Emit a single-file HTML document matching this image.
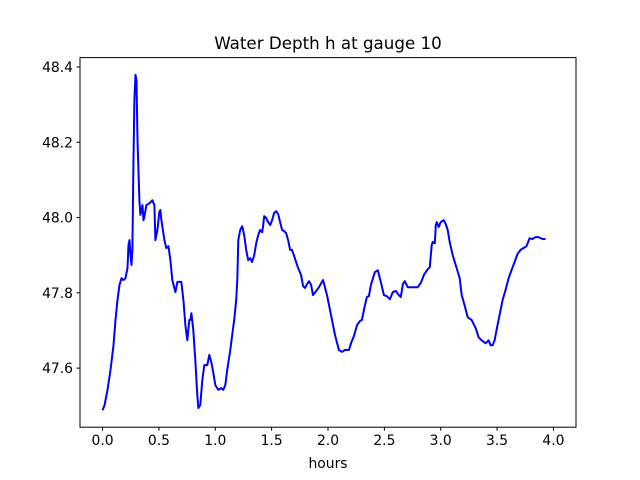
<!DOCTYPE html>
<html><head><meta charset="utf-8"><style>
body{margin:0;background:#fff;}
svg{display:block;font-family:"DejaVu Sans","Liberation Sans",sans-serif;}
</style></head><body>
<svg id="chart" width="640" height="480" viewBox="0 0 640 480" xmlns="http://www.w3.org/2000/svg">
<rect width="640" height="480" fill="#fff"/>
<text x="328" y="49" font-size="16.7" text-anchor="middle">Water Depth h at gauge 10</text>
<text x="328" y="468" font-size="13.9" text-anchor="middle">hours</text>
<g id="ticks"></g>
<path id="line" fill="none" stroke="#0000ff" stroke-width="2" stroke-linejoin="round"/>
<rect x="80" y="57.6" width="496" height="369.6" fill="none" stroke="#000" stroke-width="1"/>
</svg>
<script>
const hours=[0,0.018,0.044,0.071,0.097,0.115,0.133,0.150,0.168,0.186,0.204,0.221,0.230,0.239,0.248,0.257,0.265,0.274,0.283,0.292,0.301,0.310,0.327,0.336,0.345,0.354,0.363,0.372,0.389,0.416,0.442,0.460,0.469,0.487,0.504,0.513,0.522,0.549,0.566,0.584,0.602,0.619,0.646,0.664,0.699,0.717,0.735,0.752,0.770,0.779,0.788,0.805,0.823,0.841,0.850,0.867,0.885,0.903,0.929,0.947,0.965,0.982,1.000,1.027,1.053,1.071,1.089,1.106,1.133,1.150,1.168,1.186,1.195,1.204,1.221,1.239,1.257,1.274,1.292,1.310,1.327,1.345,1.363,1.381,1.398,1.416,1.425,1.434,1.451,1.469,1.487,1.504,1.522,1.540,1.558,1.575,1.593,1.611,1.628,1.646,1.664,1.681,1.699,1.717,1.735,1.761,1.779,1.796,1.814,1.832,1.850,1.867,1.920,1.956,1.991,2.027,2.062,2.097,2.124,2.150,2.186,2.204,2.230,2.257,2.283,2.301,2.327,2.345,2.363,2.381,2.416,2.442,2.469,2.496,2.522,2.549,2.575,2.602,2.628,2.646,2.664,2.681,2.708,2.735,2.770,2.796,2.823,2.850,2.885,2.903,2.920,2.929,2.947,2.956,2.965,2.982,3.000,3.027,3.044,3.062,3.080,3.106,3.133,3.168,3.186,3.212,3.239,3.274,3.310,3.336,3.363,3.398,3.425,3.442,3.460,3.478,3.504,3.522,3.549,3.575,3.602,3.628,3.655,3.681,3.708,3.735,3.761,3.788,3.814,3.823,3.841,3.867,3.903,3.929,3.956,4.0];
const depth=[47.488,47.502,47.542,47.595,47.661,47.728,47.781,47.821,47.839,47.834,47.839,47.866,47.927,47.940,47.900,47.874,47.914,48.140,48.312,48.379,48.365,48.206,48.046,48.007,48.020,48.033,47.993,48.004,48.033,48.038,48.046,48.033,47.940,47.967,48.015,48.020,47.993,47.940,47.919,47.924,47.887,47.834,47.802,47.829,47.829,47.781,47.714,47.674,47.728,47.728,47.746,47.701,47.621,47.528,47.494,47.502,47.568,47.608,47.608,47.635,47.616,47.589,47.555,47.542,47.547,47.542,47.555,47.595,47.648,47.688,47.728,47.781,47.834,47.940,47.967,47.977,47.953,47.914,47.887,47.892,47.882,47.900,47.932,47.953,47.967,47.961,47.980,48.004,47.999,47.988,47.980,47.993,48.012,48.017,48.009,47.988,47.967,47.964,47.959,47.940,47.914,47.914,47.898,47.882,47.866,47.847,47.818,47.813,47.823,47.831,47.821,47.794,47.815,47.834,47.794,47.741,47.688,47.648,47.643,47.648,47.648,47.666,47.685,47.714,47.725,47.728,47.767,47.789,47.791,47.821,47.855,47.860,47.828,47.794,47.791,47.783,47.802,47.805,47.794,47.789,47.823,47.831,47.815,47.815,47.815,47.815,47.826,47.847,47.863,47.868,47.927,47.935,47.932,47.980,47.988,47.975,47.988,47.993,47.983,47.967,47.935,47.900,47.874,47.839,47.794,47.767,47.735,47.728,47.706,47.682,47.674,47.666,47.674,47.661,47.661,47.674,47.714,47.741,47.781,47.807,47.839,47.860,47.882,47.903,47.914,47.919,47.924,47.945,47.943,47.945,47.948,47.948,47.943,47.943];
const xTicks=[0,0.5,1,1.5,2,2.5,3,3.5,4];
const xTickLabels=["0.0","0.5","1.0","1.5","2.0","2.5","3.0","3.5","4.0"];
const yTicks=[47.6,47.8,48.0,48.2,48.4];
const yTickLabels=["47.6","47.8","48.0","48.2","48.4"];
const L=80,R=576,T=57.6,B=427.2,x0=-0.2,x1=4.2,y0=47.443,y1=48.425;
function sx(v){return L+(v-x0)/(x1-x0)*(R-L);}
function sy(v){return B-(v-y0)/(y1-y0)*(B-T);}
const NS="http://www.w3.org/2000/svg";
const g=document.getElementById('ticks');
function mk(tag,attrs){const e=document.createElementNS(NS,tag);for(const k in attrs)e.setAttribute(k,attrs[k]);return e;}
xTicks.forEach((t,i)=>{
  const ln=mk('line',{x1:sx(t),x2:sx(t),y1:B,y2:B+3.5,stroke:'#000'});
  
  
  g.appendChild(ln);
  const tx=mk('text',{x:sx(t),y:B+18,'font-size':'13.9','text-anchor':'middle'});
  
  
  tx.textContent=xTickLabels[i];g.appendChild(tx);
});
yTicks.forEach((t,i)=>{
  const ln=mk('line',{x1:L-3.5,x2:L,y1:sy(t),y2:sy(t),stroke:'#000'});
  
  
  g.appendChild(ln);
  const tx=mk('text',{x:L-7,y:sy(t)+5,'font-size':'13.9','text-anchor':'end'});
  
  
  tx.textContent=yTickLabels[i];g.appendChild(tx);
});
document.getElementById('line').setAttribute('d',hours.map((h,i)=>(i?'L':'M')+sx(h).toFixed(1)+','+sy(depth[i]).toFixed(1)).join(''));
</script>
</body></html>
